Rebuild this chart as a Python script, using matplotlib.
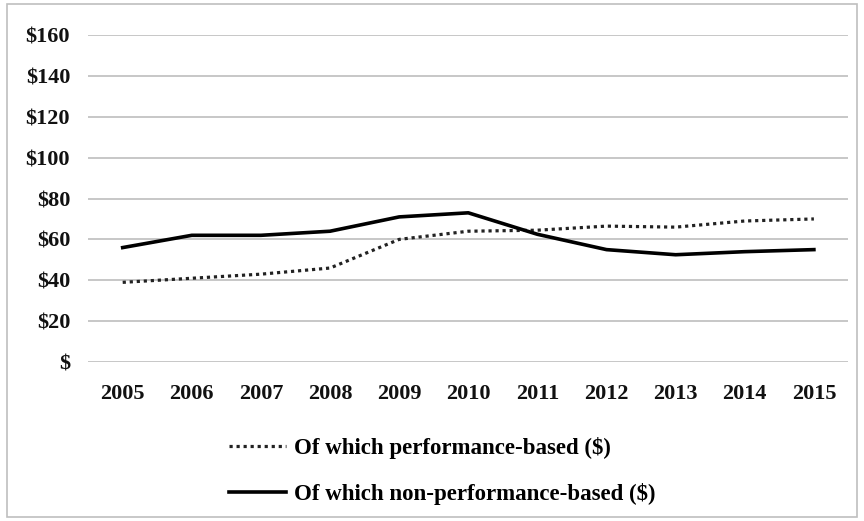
import matplotlib.pyplot as plt
from matplotlib.patches import Rectangle

# Data
years = ["2005", "2006", "2007", "2008", "2009", "2010", "2011", "2012", "2013", "2014", "2015"]
performance = [39, 41, 43, 46, 60, 64, 64.5, 66.5, 66, 69, 70]
non_performance = [56, 62, 62, 64, 71, 73, 62.5, 55, 52.5, 54, 55]
y_ticks = [0, 20, 40, 60, 80, 100, 120, 140, 160]
y_labels = ["$", "$20", "$40", "$60", "$80", "$100", "$120", "$140", "$160"]

plt.rcParams["font.family"] = ["Liberation Serif", "DejaVu Serif"]
plt.rcParams["font.weight"] = "bold"

fig = plt.figure(figsize=(8.64, 5.21), dpi=100)
ax = fig.add_axes([0.102, 0.305, 0.88, 0.628])

x = range(len(years))
ax.plot(x, performance, color="#222222", linestyle=(0, (1, 1.2)), linewidth=2.3,
        label="Of which performance-based ($)")
ax.plot(x, non_performance, color="black", linewidth=2.6,
        label="Of which non-performance-based ($)")

ax.set_ylim(0, 160)
ax.set_xlim(-0.5, len(years) - 0.5)
ax.set_yticks(y_ticks)
ax.set_yticklabels(y_labels)
ax.set_xticks(list(x))
ax.set_xticklabels(years)
ax.tick_params(length=0, labelsize=16, colors="#111111")
ax.tick_params(axis="x", pad=16)
ax.tick_params(axis="y", pad=13)
ax.grid(axis="y", color="#bdbdbd", linewidth=1.2)
ax.set_axisbelow(True)
for s in ax.spines.values():
    s.set_visible(False)

fig.legend(loc="upper left", bbox_to_anchor=(0.265, 0.162), frameon=False,
           fontsize=16.5, handlelength=2.5, labelspacing=1.08, handletextpad=0.35,
           borderaxespad=0, borderpad=0)

# outer border of the chart area
fig.patches.append(Rectangle((0.008, 0.008), 0.984, 0.984, transform=fig.transFigure,
                             fill=False, edgecolor="#bfbfbf", linewidth=1.2))

fig.savefig("out.png", dpi=100)
